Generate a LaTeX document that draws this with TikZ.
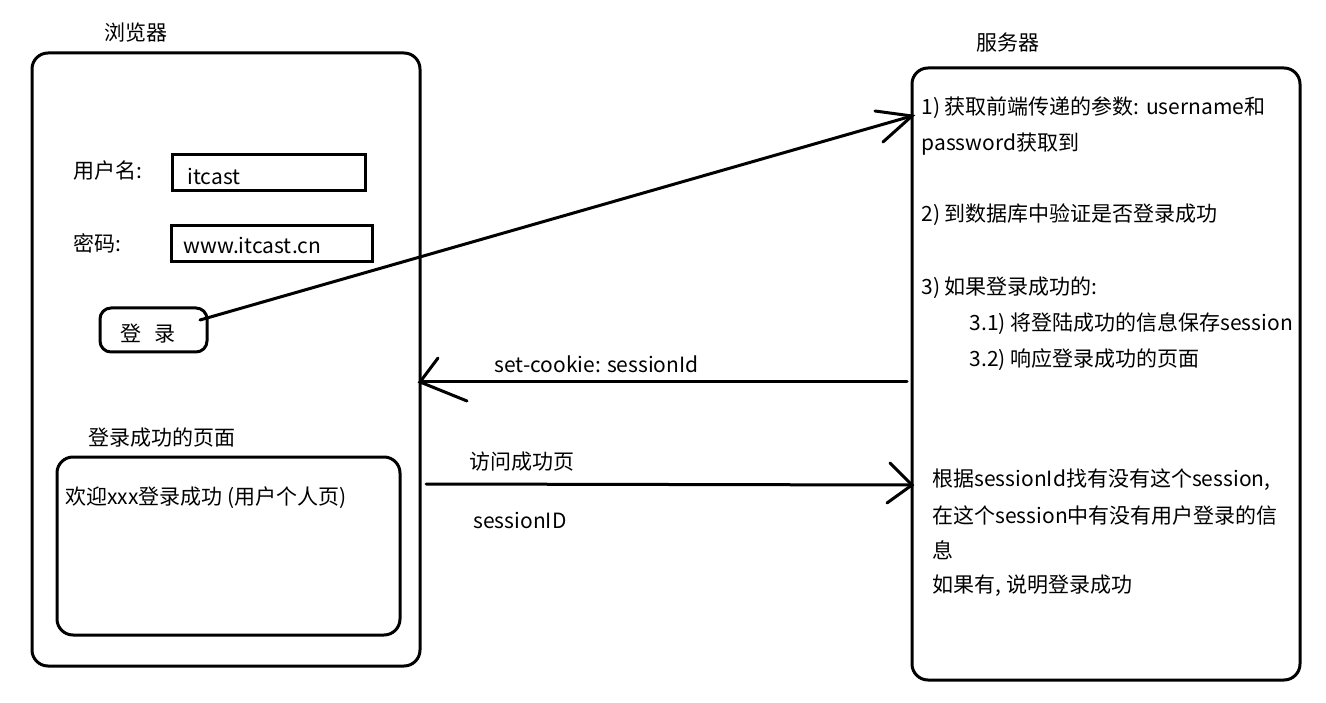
\documentclass[tikz,border=0pt]{standalone}
\usepackage{fontspec}
\setmainfont{Noto Sans CJK SC}
\begin{document}
\begin{tikzpicture}[x=1pt,y=-1pt, line width=3pt,
  txt/.style={anchor=west, inner sep=0pt, font=\fontsize{21}{25}\selectfont},
  box/.style={draw, rounded corners=16pt, inner sep=0pt},
  field/.style={draw, inner sep=0pt},
  stroke/.style={line width=3pt, line cap=round}]
\useasboundingbox (0,0) rectangle (1326,703);
% browser
\node[box, minimum width=388pt, minimum height=613pt] (browser) at (226,359.5) {};
\node[txt] (browserlbl) at (103,33) {浏览器};
\node[txt] (userlbl) at (72,171) {用户名:};
\node[field, minimum width=193pt, minimum height=36pt] (userfield) at (268.5,173) {};
\node[txt] (usertxt) at (186,177) {itcast};
\node[txt] (pwdlbl) at (72,243) {密码:};
\node[field, minimum width=201pt, minimum height=36pt] (pwdfield) at (271.5,244) {};
\node[txt] (pwdtxt) at (182,246) {www.itcast.cn};
\node[box, rounded corners=11pt, minimum width=107pt, minimum height=44pt] (loginbtn) at (153.5,330) {};
\node[txt] (logintxt) at (119,334) {登\hspace{0.6em}录};
\node[txt] (pagelbl) at (87,438) {登录成功的页面};
\node[box, minimum width=343pt, minimum height=178pt] (page) at (228.5,546) {};
\node[txt] (pagetxt) at (64,498) {欢迎xxx登录成功 (用户个人页)};
% server
\node[box, minimum width=388pt, minimum height=612pt] (server) at (1106,374) {};
\node[txt] (serverlbl) at (975,43) {服务器};
\node[txt] (s1) at (920,108) {1) 获取前端传递的参数: username和};
\node[txt] (s1b) at (920,144) {password获取到};
\node[txt] (s2) at (920,215) {2) 到数据库中验证是否登录成功};
\node[txt] (s3) at (920,288) {3) 如果登录成功的:};
\node[txt] (s31) at (968,324) {3.1) 将登陆成功的信息保存session};
\node[txt] (s32) at (968,360) {3.2) 响应登录成功的页面};
\node[txt] (c1) at (931,480) {根据sessionId找有没有这个session,};
\node[txt] (c2) at (931,516) {在这个session中有没有用户登录的信};
\node[txt] (c3) at (931,550) {息};
\node[txt] (c4) at (931,586) {如果有, 说明登录成功};
% connector 1: login -> server
\coordinate (a1s) at (200,320);
\coordinate (a1t) at (912,116);
\coordinate (a1h1) at (875,111);
\coordinate (a1h2) at (883,142);
\draw[stroke] (a1s) -- (a1t);
\draw[stroke] (a1h1) -- (a1t) -- (a1h2);
% connector 2: server -> browser (set-cookie)
\coordinate (a2s) at (907,382);
\coordinate (a2t) at (420,382);
\coordinate (a2h1) at (438,358);
\coordinate (a2h2) at (467,401);
\draw[stroke] (a2s) -- (a2t);
\draw[stroke] (a2h1) -- (a2t) -- (a2h2);
\node[txt] (cookielbl) at (493,364) {set-cookie: sessionId};
% connector 3: browser -> server (visit)
\coordinate (a3s) at (426,484);
\coordinate (a3t) at (912,485);
\coordinate (a3h1) at (890,463);
\coordinate (a3h2) at (887,503);
\draw[stroke] (a3s) -- (a3t);
\draw[stroke] (a3h1) -- (a3t) -- (a3h2);
\node[txt] (visitlbl) at (468,462) {访问成功页};
\node[txt] (sidlbl) at (472,520) {sessionID};
\end{tikzpicture}
\end{document}
